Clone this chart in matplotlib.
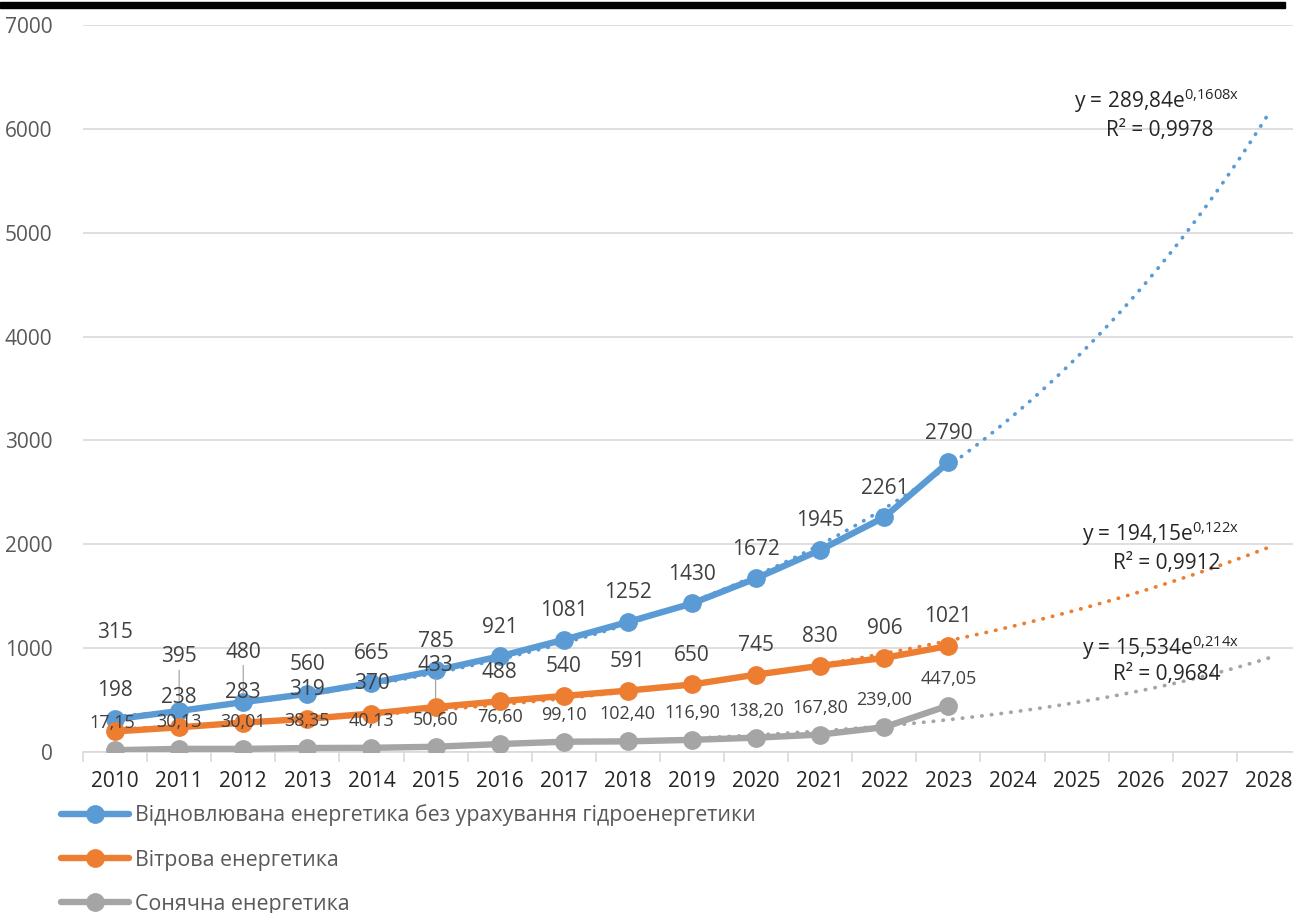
import matplotlib.pyplot as plt
import numpy as np
from matplotlib.patches import Rectangle

plt.rcParams['font.family'] = ['Open Sans', 'DejaVu Sans']
plt.rcParams['mathtext.fontset'] = 'custom'
plt.rcParams['mathtext.rm'] = 'Open Sans'

years = [str(y) for y in range(2010, 2029)]
renew = [315, 395, 480, 560, 665, 785, 921, 1081, 1252, 1430, 1672, 1945, 2261, 2790]
wind = [198, 238, 283, 319, 370, 433, 488, 540, 591, 650, 745, 830, 906, 1021]
solar = [17.15, 30.13, 30.01, 38.35, 40.13, 50.60, 76.60, 99.10, 102.40, 116.90,
         138.20, 167.80, 239.00, 447.05]

# trend equations shown on the chart (x = 1 for 2010)
trend_renew = (289.84, 0.1608, "289,84", "0{,}1608", "0,9978")
trend_wind = (194.15, 0.122, "194,15", "0{,}122", "0,9912")
trend_solar = (15.534, 0.214, "15,534", "0{,}214", "0,9684")

names = ["Відновлювана енергетика без урахування гідроенергетики",
         "Вітрова енергетика",
         "Сонячна енергетика"]
colors = ["#5B9BD5", "#ED7D31", "#A5A5A5"]

fig = plt.figure(figsize=(12.93, 9.13), dpi=100)
ax = fig.add_axes([83 / 1293, 161 / 913, 1218 / 1293, 727 / 913])

x = np.arange(len(renew))
xt = np.linspace(0, len(years) - 1, 300)

# trendlines (dotted, under the series)
for (a, b, *_), c in zip([trend_renew, trend_wind, trend_solar], colors):
    ax.plot(xt, a * np.exp(b * (xt + 1)), color=c, lw=2.7,
            linestyle=(0, (0.1, 2.5)), dash_capstyle='round', zorder=2)

handles = []
for vals, c, n in zip([renew, wind, solar], colors, names):
    h, = ax.plot(x, vals, color=c, lw=4.6, marker='o', markersize=12.5,
                 solid_capstyle='round', zorder=3, label=n)
    handles.append(h)

lab_col = '#404040'
lead = dict(arrowstyle='-', color='#a6a6a6', lw=0.9, shrinkA=0, shrinkB=6)

# data labels (offsets in px above point)
renew_off = [87, 54, 50] + [29] * 11
for i, v in enumerate(renew):
    ap = lead if i in (1, 2) else None
    ax.annotate(str(v), (i, v), xytext=(0, renew_off[i] * 0.72),
                textcoords='offset points', ha='center', va='center',
                fontsize=15, color=lab_col, arrowprops=ap, zorder=5)

wind_off = [41, 30, 30, 29, 30, 42] + [29] * 8
for i, v in enumerate(wind):
    ap = lead if i == 5 else None
    ax.annotate(str(v), (i, v), xytext=(0, wind_off[i] * 0.72),
                textcoords='offset points', ha='center', va='center',
                fontsize=15, color=lab_col, arrowprops=ap, zorder=5)
# leader of the first label down to the axis point
ax.annotate("", (0, solar[0]), xytext=(0, wind[0]), textcoords='data',
            xycoords='data', arrowprops=dict(arrowstyle='-', color='#a6a6a6',
                                             lw=0.9, shrinkA=-8, shrinkB=4),
            zorder=1)

for i, v in enumerate(solar):
    ax.annotate(f"{v:.2f}".replace('.', ','), (i, v), xytext=(-2 if i == 0 else 0, 27 * 0.72),
                textcoords='offset points', ha='center', va='center',
                fontsize=13, color=lab_col, zorder=5)

# trend equation labels
eq_pos = [(16.25, 6270, 16.3, 5985), (16.3, 2105, 16.4, 1815), (16.3, 1005, 16.4, 745)]
for (a, b, sa, sb, r2), (ex, ey, rx, ry) in zip([trend_renew, trend_wind, trend_solar], eq_pos):
    ax.text(ex, ey, f"y = {sa}e$^{{\\mathrm{{{sb}x}}}}$", ha='center', va='center',
            fontsize=15, color='#262626', zorder=6)
    ax.text(rx, ry, f"R² = {r2}", ha='center', va='center', fontsize=15,
            color='#262626', zorder=6)

ax.set_xlim(-0.5, len(years) - 0.5)
ax.set_ylim(0, 7000)
ax.set_yticks(range(0, 7001, 1000))
ax.set_xticks(range(len(years)))
ax.set_xticklabels(years)
ax.set_xticks(np.arange(-0.5, len(years), 1), minor=True)
ax.tick_params(axis='x', which='major', length=0, pad=14, labelsize=15, labelcolor='#262626')
ax.tick_params(axis='x', which='minor', length=7, color='#d9d9d9', width=1.2)
ax.tick_params(axis='y', length=0, pad=22, labelsize=15, labelcolor='#595959')
ax.grid(axis='y', color='#d9d9d9', lw=1.2)
ax.set_axisbelow(True)
for s in ['top', 'right', 'left']:
    ax.spines[s].set_visible(False)
ax.spines['bottom'].set_color('#d9d9d9')
ax.spines['bottom'].set_linewidth(1.2)

fig.legend(handles=handles, loc='upper left', bbox_to_anchor=(52 / 1293, 1 - 796 / 913),
           frameon=False, fontsize=15.4, labelcolor='#595959', handlelength=3.2,
           handletextpad=0.3, labelspacing=1.08, borderaxespad=0)

fig.add_artist(Rectangle((0, 1 - 8 / 913), 1285 / 1293, 6 / 913, transform=fig.transFigure,
                         color='black', zorder=10))

fig.savefig("out.png", dpi=100)
plt.close()
